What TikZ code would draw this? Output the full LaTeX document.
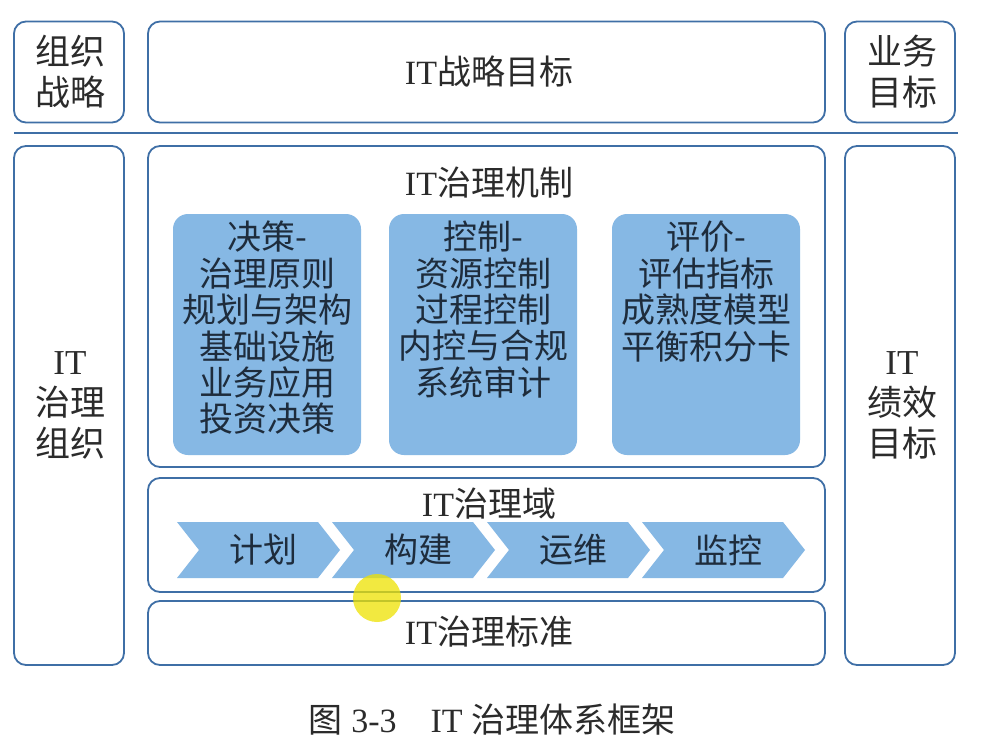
\documentclass[tikz,border=0pt]{standalone}
\usepackage{fontspec}
\setmainfont{Liberation Serif}
\newfontfamily\cjk{Noto Sans CJK SC}
\newcommand\zh[1]{{\cjk #1}}
\definecolor{bordc}{HTML}{3F6FA6}
\definecolor{fillc}{HTML}{86B8E4}
\definecolor{txtc}{HTML}{2B2B2B}
\definecolor{btxt}{HTML}{1E2C3C}
\tikzset{
  box/.style={draw=bordc, line width=1.8pt, rounded corners=12pt, fill=white, inner sep=0pt},
  bluebox/.style={fill=fillc, rounded corners=15pt, inner sep=0pt},
  chev/.style={fill=fillc},
  lbl/.style={text=txtc, align=center, inner sep=0pt},
  blbl/.style={text=btxt, align=center, inner sep=0pt, font=\fontsize{34}{36.4}\selectfont},
}
\begin{document}
\begin{tikzpicture}[x=1pt,y=-1pt]
\useasboundingbox[fill=white] (0,0) rectangle (984,754);
% top row
\node[box, minimum width=110, minimum height=101] (org) at (69,72) {};
\node[lbl, font=\fontsize{35}{41}\selectfont] (orgt) at (70,72) {\zh{组织}\\\zh{战略}};
\node[box, minimum width=677, minimum height=101] (itgoal) at (486.5,72) {};
\node[lbl, font=\fontsize{34}{36}\selectfont] (itgoalt) at (489,72) {IT\zh{战略目标}};
\node[box, minimum width=110, minimum height=101] (biz) at (900,72) {};
\node[lbl, font=\fontsize{35}{41}\selectfont] (bizt) at (902,72) {\zh{业务}\\\zh{目标}};
% separator
\coordinate (sepL) at (14,133);
\coordinate (sepR) at (958,133);
\draw[draw=bordc, line width=1.8pt] (sepL) -- (sepR);
% side columns
\node[box, minimum width=110, minimum height=519] (itorg) at (69,405.5) {};
\node[lbl, font=\fontsize{35}{41}\selectfont] (itorgt) at (70,405) {IT\\\zh{治理}\\\zh{组织}};
\node[box, minimum width=110, minimum height=519] (perf) at (900,405.5) {};
\node[lbl, font=\fontsize{35}{41}\selectfont] (perft) at (902,405) {IT\\\zh{绩效}\\\zh{目标}};
% mechanism
\node[box, minimum width=677, minimum height=321] (mech) at (486.5,306.5) {};
\node[lbl, font=\fontsize{34}{36}\selectfont] (mecht) at (489,183) {IT\zh{治理机制}};
\node[bluebox, minimum width=188, minimum height=241] (b1) at (267,334.5) {};
\node[bluebox, minimum width=188, minimum height=241] (b2) at (483,334.5) {};
\node[bluebox, minimum width=188, minimum height=241] (b3) at (706,334.5) {};
\node[blbl, anchor=north] (b1t) at (267,221) {\zh{决策-}\\\zh{治理原则}\\\zh{规划与架构}\\\zh{基础设施}\\\zh{业务应用}\\\zh{投资决策}};
\node[blbl, anchor=north] (b2t) at (483,221) {\zh{控制-}\\\zh{资源控制}\\\zh{过程控制}\\\zh{内控与合规}\\\zh{系统审计}};
\node[blbl, anchor=north] (b3t) at (706,221) {\zh{评价-}\\\zh{评估指标}\\\zh{成熟度模型}\\\zh{平衡积分卡}};
% domain
\node[box, minimum width=677, minimum height=114] (dom) at (486.5,535) {};
\node[lbl, font=\fontsize{34}{36}\selectfont] (domt) at (489,504) {IT\zh{治理域}};
\foreach \i/\t in {0/计划,1/构建,2/运维,3/监控}{
  \pgfmathsetmacro\L{177+155*\i}
  \fill[chev] (\L,522) -- (\L+141,522) -- (\L+163,550) -- (\L+141,578) -- (\L,578) -- (\L+22,550) -- cycle;
  \node[text=btxt, inner sep=0pt, font=\fontsize{34}{36}\selectfont] (ch\i) at (\L+86,550) {\zh{\t}};
}
% standard
\node[box, minimum width=677, minimum height=64] (std) at (486.5,633) {};
\node[lbl, font=\fontsize{34}{36}\selectfont] (stdt) at (489,632) {IT\zh{治理标准}};
% cursor highlight
\fill[yellow!85!olive, opacity=0.75] (377,598) circle (24);
% caption
\node[lbl, font=\fontsize{34}{40}\selectfont] (cap) at (492,720) {\zh{图} 3-3\quad IT \zh{治理体系框架}};
\end{tikzpicture}
\end{document}
